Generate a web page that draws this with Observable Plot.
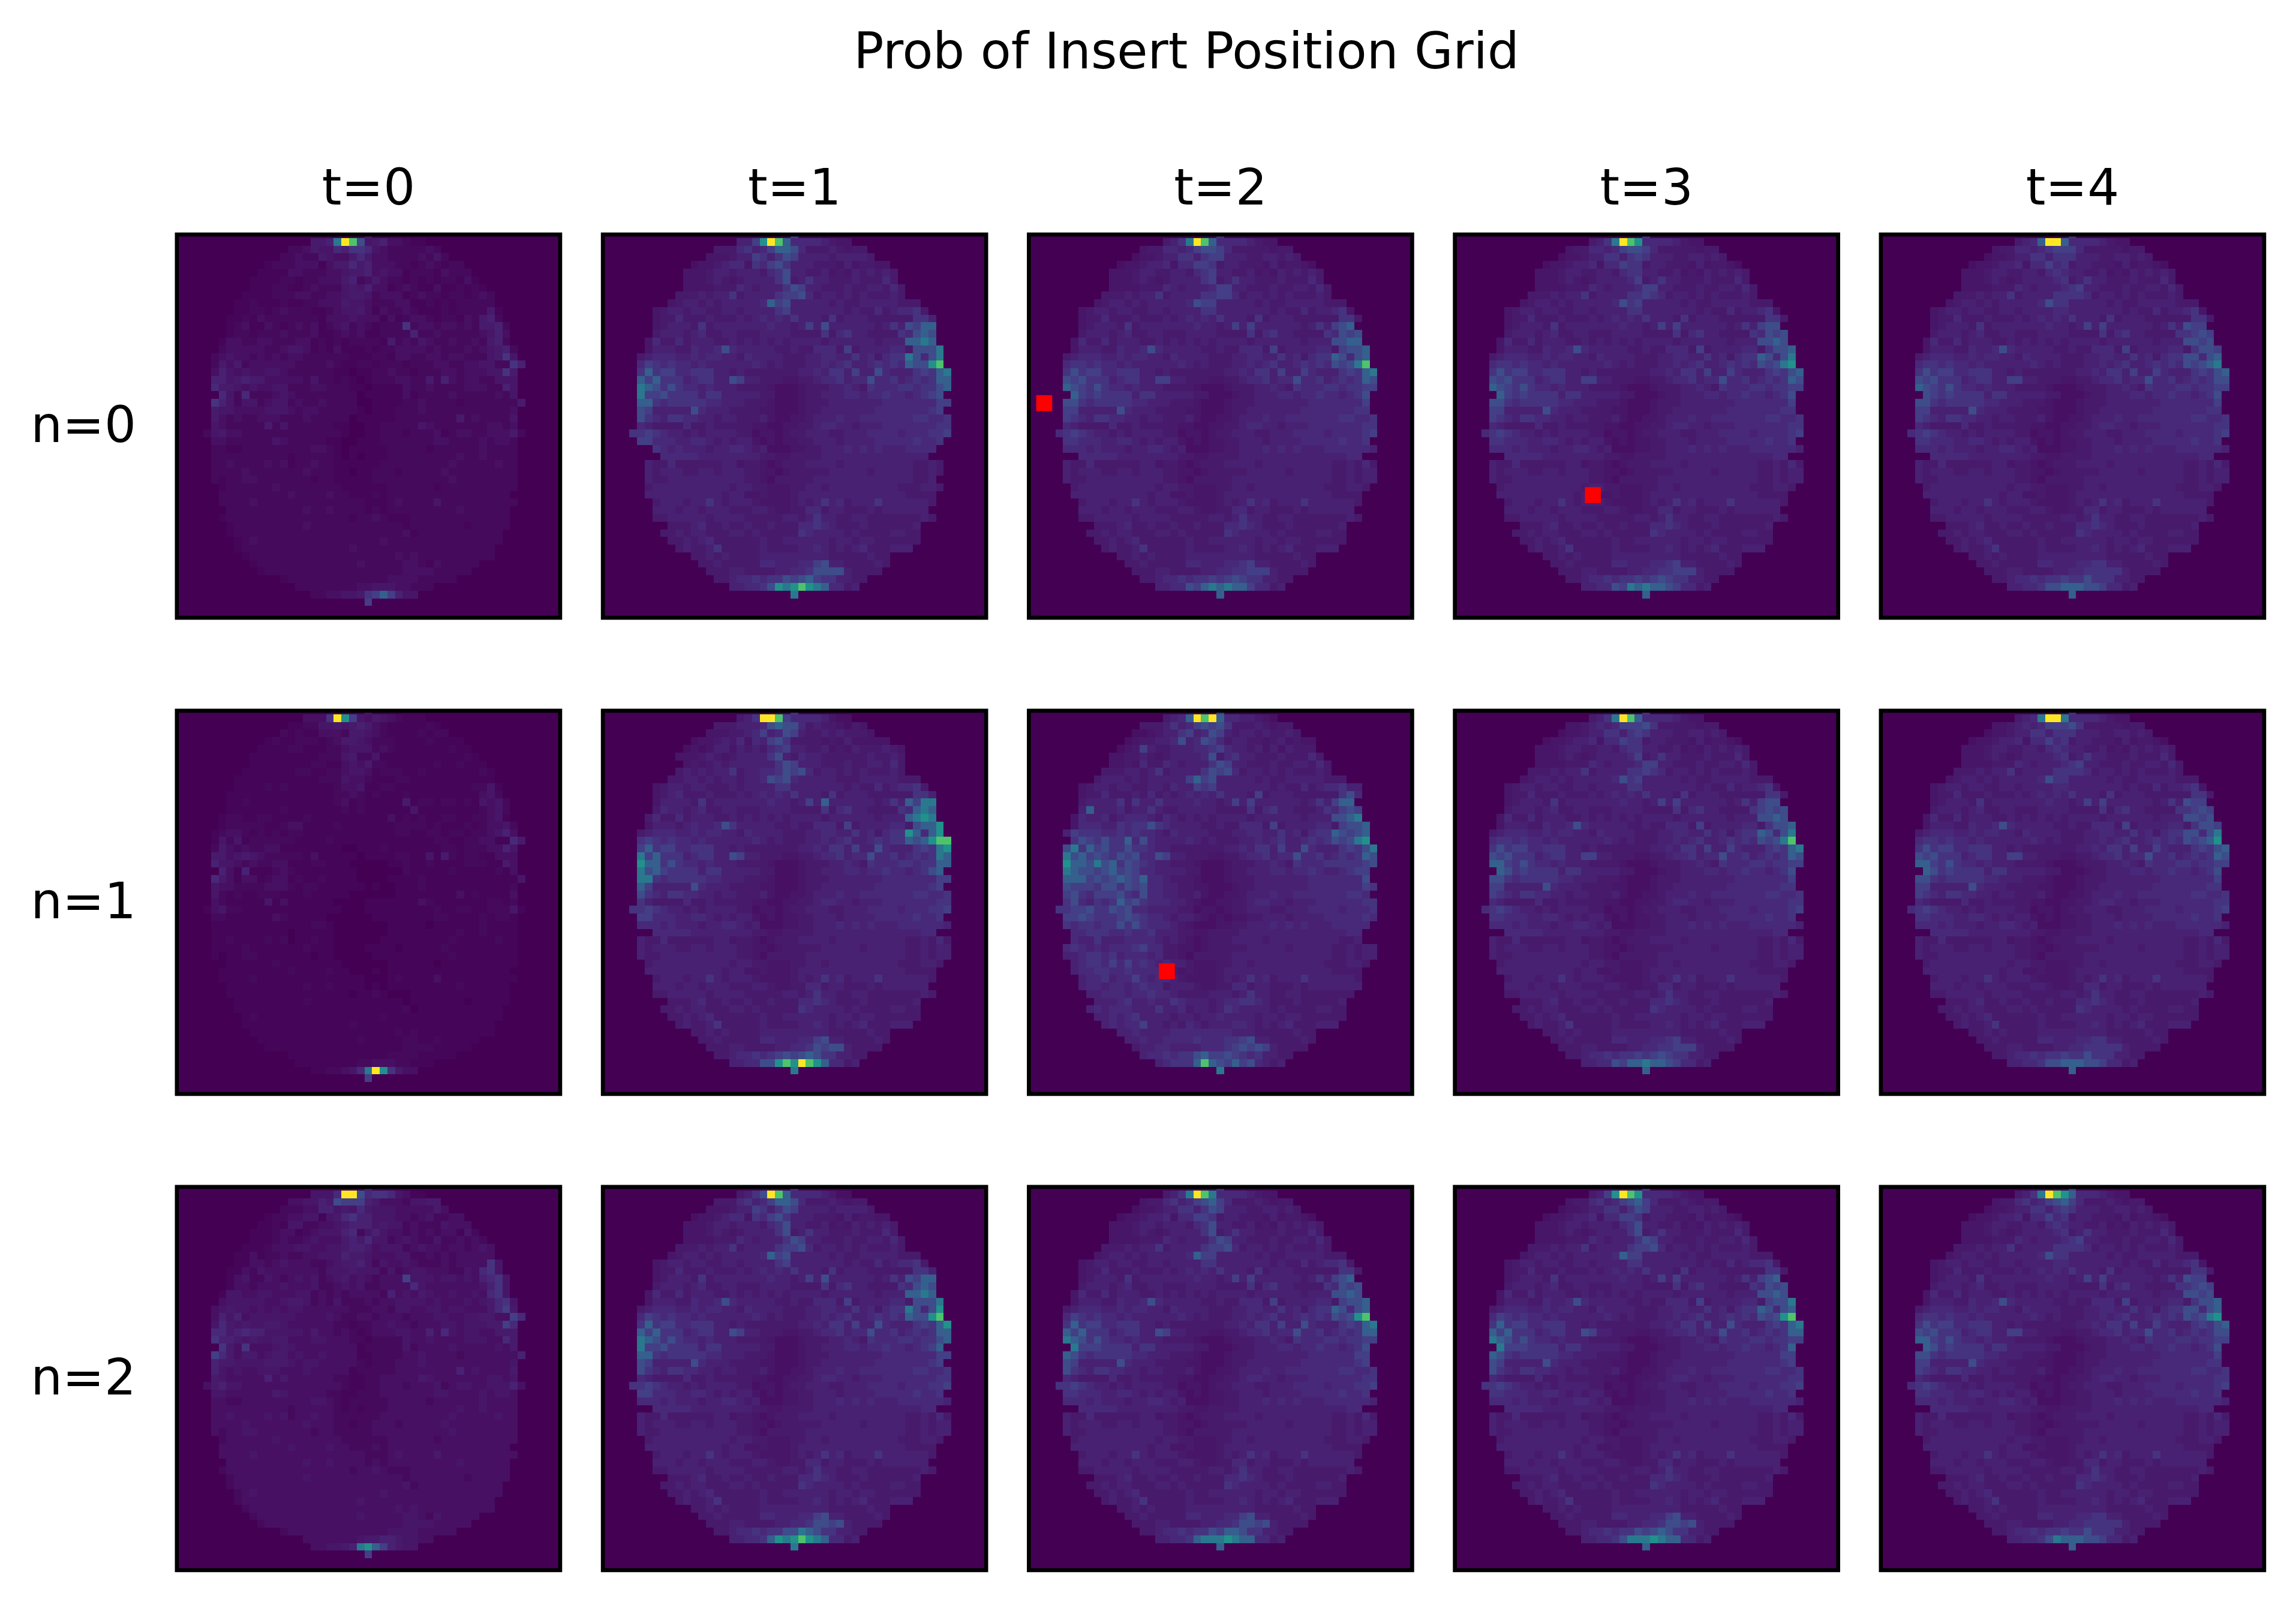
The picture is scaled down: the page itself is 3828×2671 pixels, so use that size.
<!doctype html>
<html><head><meta charset="utf-8">
<script src="https://cdn.jsdelivr.net/npm/d3@7"></script>
<script src="https://cdn.jsdelivr.net/npm/@observablehq/plot@0.6"></script>
<style>body{margin:0;background:#fff}#t{height:150px;width:3828px;position:relative;font:83.33px "DejaVu Sans"}#t span{position:absolute;left:1978px;top:37px;transform:translateX(-50%);white-space:nowrap;line-height:97px}svg{display:block}</style>
</head><body><div id="t"><span>Prob of Insert Position Grid</span></div><script>
// Cell values are estimated by eye from the reference: hot cells and clear specks are
// read individually, the faint background speckle is only approximate.
// One hex digit per cell (index into levels); each row lists the cells inside the disc, centred on column 25.
const levels=[0,.012,.025,.04,.055,.07,.09,.115,.145,.18,.23,.3,.4,.5,.72,1];
const tLabels=[0,1,2,3,4];
const nLabels=[0,1,2];
const markers=[{t:2,n:0,x:2,y:22},{t:3,n:0,x:18,y:34},{t:2,n:1,x:18,y:34}];

const n0t0=`5
556cfea45633211
22354476887432222232
2232254335753322223242
12223331355756333221232122
1111332223345563433122213222
111122122333562353221212122131
1112211232224546331232113112121
111122233223345542333123221221232
1121112112233354432223311212122222
11221232221123445313223211121222251
112132222222133343331312332122132562
1231132123231234232122282332332325562
1221222322231123231122226223222223463
13322332223312121222215232432232232562
233333223443121311121223333232223234562
2343323232332222221112213322332332224584
25352333333222232112212221222332233442286
3643433443222222110112232212223323334485
6645655333332422121012223322526323322444
7554343344222332221101111322322223332264
742722234322222222011111312222322222324
86424423442322322220011112232222122222225
5443333444323322222101112223222222222223
5323223332223222220111112222222252322224
4322222524222222110011222224322222223323
245332222222222222100112221222312332233352
3322222243222221100111222222233222232332
2211222222222332101111122222122222232222
2222222222122222101011122222222232232222
2232222323122322111111222222222322222322
2222322222223222110112221222223222222222
2122332222222122111112222222222322222222
122222232222222211111122222212222222222
22222222232222322111212222222222222222
222232222222222222211123222242222222222
2222222222322322221212222222223222222
12222222222222222122321112222222222222
1222222222322222222222212222222122222
122222222222222222222223122222222222
12322222222222222223222222222222222
1222222222222223222222222222222222
122222222222222222223232222222222
122222222222223222223321322222
1222222222222222222333322222
12222222222222333322222
222222223344433222
223344589b9644
9`;

const n1t0=`4
3338fd9435432111
11224454565321111121
2121133325543211112122
12112221235543222111121111
1111221112234442321111111211
111111111222452241111111111121
1111111122113435221111112112111
111111122112234431222112111111121
1111111111122243321112211111111111
11112121111112334112211111111112241
111111111111112232121112111111111342
1121111111111123121111151221221214342
1111111211111112121111114111111112342
12211221111211111111113121211221122341
122222112331111211111112222121112123342
1233212121221111111111112211221221223463
14241222222111121111111111111221122331175
2532322331111111100111211111112212223364
5534543222221311111011112211415212211333
6443232233111221110000011211211112221153
631611123211111111000000211111211111213
75313312331211211110000111121111111111114
4332222333212211111101001112111111111112
4212112221112111110000001111111131211113
3211111413111111000011111113211111112212
134221111111111111000111111111211221122241
2211111132111110000001111111122111121221
1111111111111221000000011111011111121111
1111111111011111000000011111111121121111
1121111212011211000000111111111211111211
1111211111112111000011110111112111111111
1011221111111011000001111111111211111111
011111121111111100000011111101111111111
11111111121111211000101111111111111111
111121111111111111100012111131111111111
1111111111211211110101111111112111111
01111111111111111011210001111111111111
0111111111211111111111101111111011111
011111111111111111111112011111111111
01211111111111111112111111111111111
0111111111111112111111111111111111
011111111111111111112121111111111
011111111111112111112211211111
0111111111111111111222211111
01111111111111222211111
111111112233322111
1122347cfd8533
9`;

const n2t0=`6
4447ffa78874311
334465a9996533324455
2223366454754443333353
12233441457866444332342233
1121442233456664544232224333
111233123444672464332323233142
1112322343335657442343224223232
111233344334456653444234332332343
1131223223344465543334422323233333
11332343332234556424334322232333384
113243333333244454442423443332243784
1342243234342345343233394443443436784
1332333433342234342233337433333334684
14433443334423232333326343543343343784
344444334554232422232334444343334345784
3454434343443333332223324433443443335795
36463444444333343223323332333443344553397
4754544554333333221223343323334434445597
7756766444443533232123334433637434433555
8665454455333443332212222433433334443375
853833345433333333122222423333433333435
97535534553433433331122223343333233333336
6554444555434433333212223334333333333334
6434334443334333331222223333333363433335
5433333635333333221122333335433333334434
356443333333333333211223332333423443344463
4433333354333332211222333333344333343443
3322333333333443212222233333233333343333
3333333333233333212122233333333343343333
3343333434233433222222333333333433333433
3333433333334333221223332333334333333333
3233443333333233222223333333333433333333
233333343333333322222233333323333333333
33333333343333433222323333333333333333
333343333333333333322234333353333333333
3333333333433433332323333333334333333
23333333333333333233432223333333333333
2333333333433333333333323333333233333
233333333333333333333334233333333333
23433333333333333334333333333333333
2333333333333333433333333333333333
233333333333333333334343333333333
233333333333334333334432433333
2333333333333333333444433333
23333333333333444433333
33333334556654433
334456cdb96544
9`;

const n0t1=`9
669dfeb77776544
55578679bba755565455
4445669868a96666566665
34456774879a86665554645544
4445665666578a66556454656565
4445654566668a56866555655575
44445557656668a96655565566575
5556566856666899a7566565655565
4566565666667b9a66666565566666555
456656655665666689666666656557567785
4557555655565676768666585666555555886
4566658566666667665696a6666665686a9bb
5666567556655566665555857866555587aba
4755756665565656565666656666665666bbcb
4666557667a766666556557775956666775aaac
56777667677665766665556677668675788ca7ac
79878776766666676565556676786678787baade
8b89977888665655555556676886966a7666898bc
b9b888678866a96655544556778677a77867878bb
cba8a8776766655554333455566765877788788ab
c99a88886886666655333455666776778776789a
bb878888877666555433345556666666777777799
a966666a76665555443334556666666777777789
a8768877665665556433445666766777777788778
76555575565555544334455677665666777777788
889876656566665534434556665566677776777889
9977766776565664343445566656666777778778
8767666566776563334455666767676667777
77777666666665544555566666666666666
655755555566455434555666656666666665565
656665566566655443455555666665666665565
65566666666665543555556666666666666556
566666666665665544455665666666666555665
66666666665664454445666666666666665555
5666566865666544445656867566686666665
666566566655566544557756655565666666
5566666566665555566568665566555555565
555675565565565557787655565555556
5565665556656555558766665655556655
556567555555655666666566566555555
5655685555565555667656567555666
55656555566666666655555655
5565555577666779a66555565
55566555566778aaaa65555
556778788a9ab9886655
66778adcdedcb7756
c`;

const n1t1=`8
568ffe977776433
5556667abaa756554354
4445567967a96556565554
34456574769a85555454644444
34346646565789665564546555654
4445654566668a6576655555565565
4545656666668a966655565566575
56565668566778a9a7566565655565
5566565665667a9a76666655566666555
456656655565666688666666656557567785
4567555655565676768666585666555555886
4666658566666667665696b6666665686b9cc
5766567556655566665555857866555587bcb
5755756665565656565666656666665666bcdc
4666567667a866666556557775956666775abbd
56777667677665766665556677668675788db7bd
89878776766666676565556676786678788babdee
9b89977888665655555556676886966a7666898cd
c9b888678866a96655544556778677a77867878cb
dbb8a8776766655554333455566765877788788bb
cab98888688666665533345566677677877678ab
cc878888877666555433345556666666777777799
b966666a76665555443334556666666777777789
a8768877665665556433445666766777777788778
86555575565555544334455677665666777777788
889876656566665534434556665566677776777889
9977766776565664343445566656666777778778
77767666566776563334455666767676667777776
7777766666666554455556666666666666677
65575555556645543455566665666666666556575
65666556656665544345555566666566666556566
65566666666665543555556666666666666556566
566666666665665544455665666666666555665
66666666665664454445666666666666665555
5666566865666544445656867566686666665
666566566655566544557756655565666666
5566666566665555566568665566555555565
555675565565565557787655565555556
5565665556656555558766665655556655
556567555555655666666566566555555
5655685555565555667656567555666
55656555566666666655555655
5565555577666779a66555565
55566555566778a9aa65555
556778789a9aba886655
6677aadedfedb7756
c`;

const n2t1=`8
568afeb77776533
55578679bba755565455
4445669868a96666566665
34456774879a86665554645544
4445665666578a66556454656565
4445654566668a56866555655575
44445557656668a96655565566575
5556566856666899a7566565655565
4566565666667b9a66666565566666555
456656655665666689666666656557567785
4557555655565676768666585666555555886
4566658566666667665696a6666665686a9bb
5666567556655566665555857866555587aba
4755756665565656565666656666665666bbcb
4666557667a766666556557775956666775aaac
56777667677665766665556677668675788ca7ad
79878776766666676565556676786678787baade
8b89977888665655555556676886966a7666898bd
b9b888678866a96655544556778677a77867878bb
cba8a8776766655554333455566765877788788ab
c99a88886886666655333455666776778776789b
bb878888877666555433345556666666777777799
a966666a76665555443334556666666777777789
a8768877665665556433445666766777777788778
76555575565555544334455677665666777777788
889876656566665534434556665566677776777889
9977766776565664343445566656666777778778
77767666566776563334455666767676667777776
7777766666666554455556666666666666677
65575555556645543455566665666666666556575
65666556656665544345555566666566666556566
65566666666665543555556666666666666556566
566666666665665544455665666666666555665
66666666665664454445666666666666665555
5666566865666544445656867566686666665
666566566655566544557756655565666666
5566666566665555566568665566555555565
555675565565565557787655565555556
5565665556656555558766665655556655
556567555555655666666566566555555
5655685555565555667656567555666
55656555566666666655555655
5565555577666779a66555565
55566555566778aa9a65555
556778788aacba886655
66778bdcdedcb7756
c`;

const n0t2=`8
568cfeb77776544
45577679aa9755555455
3445668868996665566565
34456674779985665554645543
4445665566578966556454656565
4445654566668956866555655575
44445557656667996655565566575
555656685666688997566565655565
4566565666667a9966666565566666555
456656655665666688666666656557566784
4557555655565676768666585666555555885
4566658566666667665696966666656869ab
5666567556655566665555857866555587a9a
4755756665565656565666656666665666aabb
4666557667a7666665565577759566667759aab
56777667677665766665556677668675788ba7ab
78878776766666676565556676786678787a9ace
8a8997788866565555555667688696697666898bc
a9a888678866996655544556778677a77867878ba
ba98a877676665555433345556676587778878899
b9898888688666665533345566677677877678a
aa87888887766655543334555666666677777779
9966666a76665555443334556666666777777788
98768877665665556433445666766777777788778
76555575565555544334455677665666777777788
789876656566665534434556665566677776777789
8877766776565664343445566656666777778778
77767666566776563334455666767676667777776
7777766666666554455556666666666666677
65575555556645543455566665666666666556575
65666556656665544345555566666566666556566
65566666666665543555556666666666666556566
566666666665665544455665666666666555665
66666666665664454445666666666666665555
5666566865666544445656867566686666665
666566566655566544557756655565666666
5566666566665555566568665566555555565
555675565565565557787655565555556
5565665556656555558766665655556655
556567555555655666666566566555555
5655685555565555667656567555666
55656555566666666655555655
5565555577666778966555565
55566555566778899965555
556778788989a9886655
6677a9bcbcbb97756
b`;

const n1t2=`9
567bfefb7766543
55568679a9a855565455
3345668967a96566565565
3455667a67a97566554564544
34596556667789766564646555
4455654566667a57866555655575
44547557656668a96655565566575
55566568566668a9a7566565655565
5666565666669b9a66666565566666555
4566566556657669896666666565575677866
45575556575656767686665956665555558a7
5666685866866667665696966666656869bb
6b666756686556666655558578665556879a9
4766756777657656565666656666665666aabc
4777668788a8766665565577759566667759aab
69888778787765766665556677668675788ba9ab
8a98a88b7a766667656555667678667878a9acd
ac8b9a88a8876655555556676886966a7666898ac
cab9a98a9a77a96655544556778677a77867878ba
dbbacab8a9876655543334555667658777888889a
cbaa9ab9a9776666553334556667767787667899
bbb9a9aba9b7765554333455566666667777777a
a9998aa8a9a776655443334556666666777777798
9a87999a87a77665564334456667667777777887
8a76878b9a8777665433445567766566677777788
8899a88a9a77666655344345566655666777767778
99a98889a98776566543434455666566667777787
8788788a8a877765433344556667676766677777
77888778778666554455556666666666666677
76686667777656543455566665666666666556
78767677789775544345555566666566666556566
66788786777675543555556666666666666556566
678879797876766544455665666666666555665
67788778777765454445666666666666665555
6778677976776544445656867566686666665
6776776787756665445577566555656666666
66777677877655556665686655665555555
666786676687666567788765556555556
6767776668667566568766665655556655
667678666656656676666566566555555
6767796656576566677656567555666
66766667777777766655555655
6676677778777889a66555565
56677666677789a9a965555
6778788ab99a98786655
67888beba9b9a7656
c`;

const n2t2=`8
568cfec77776544
45578679ab9755565455
3445668868a96665566565
34456674779985665554645543
4445665666578a66556454656565
4445654566668a56866555655575
44445557656668a96655565566575
5556566856666899a7566565655565
4566565666667b9966666565566666555
456656655665666688666666656557567785
4557555655565676768666585666555555885
4566658566666667665696966666656869ab
5666567556655566665555857866555587a9a
4755756665565656565666656666665666aaba
4666557667a7666665565577759566667759aab
56777667677665766665556677668675788ba7ab
79878776766666676565556676786678787a9ade
8b89977888665655555556676886966a7666898bc
b9b888678866a96655544556778677a77867878bb
cba8a877676665555433345556676587778878899
c9998888688666665533345566677677877678a
ba87888887766655543334555666666677777799
a966666a76665555443334556666666777777789
a8768877665665556433445666766777777788778
76555575565555544334455677665666777777788
889876656566665534434556665566677776777889
8877766776565664343445566656666777778778
77767666566776563334455666767676667777776
7777766666666554455556666666666666677
65575555556645543455566665666666666556575
65666556656665544345555566666566666556566
65566666666665543555556666666666666556566
566666666665665544455665666666666555665
66666666665664454445666666666666665555
5666566865666544445656867566686666665
666566566655566544557756655565666666
5566666566665555566568665566555555565
555675565565565557787655565555556
5565665556656555558766665655556655
556567555555655666666566566555555
5655685555565555667656567555666
55656555566666666655555655
5565555577666779a66555565
55566555566778aa9a65555
556778788a9bba886655
66778bcccdcbb7756
b`;

const n0t3=`8
568cfed77776544
45577679aa9755555455
3445668868986665566565
34456674779885665554645543
4445665566578866556454656565
4445654566667956866555655575
44445557656667996655565566575
555656685666688987566565655565
4566565666667a8966666565566666555
456656655665666688666666656557566784
4557555655565676768666585666555555885
4566658566666667665696966666656869aa
5666567556655566665555857866555587a9a
4755756665565656565666656666665666aaba
4666557667a7666665565577759566667758aab
56777667677665766665556677668675788ba7ac
78878776766666676565556676786678787a9acd
8a8997788866565555555667688696697666898ab
a9a888678866996655544556778677a77867878ba
ba98a877676665555433345556676587778878899
b9898888688666665533345566677677877678a
aa87888887766655543334555666666677777779
9966666a76665555443334556666666777777788
98768877665665556433445666766777777788778
76555575565555544334455677665666777777788
789876656566665534434556665566677776777789
8877766776565664343445566656666777778778
77767666566776563334455666767676667777776
7777766666666554455556666666666666677
65575555556645543455566665666666666556575
65666556656665544345555566666566666556566
65566666666665543555556666666666666556566
566666666665665544455665666666666555665
66666666665664454445666666666666665555
5666566865666544445656867566686666665
666566566655566544557756655565666666
5566666566665555566568665566555555565
555675565565565557787655565555556
5565665556656555558766665655556655
556567555555655666666566566555555
5655685555565555667656567555666
55656555566666666655555655
5565555577666778966555565
55566555566778899965555
556778788989a9886655
6677a9cbcbba97756
b`;

const n1t3=`8
568cfeb77776544
4456767999a855555455
3445668868986665566565
34456674779885665554645543
4445665566578866556454656565
4445654566667956866555655575
44445557656667996655565566575
555656685666688987566565655565
4566565666667a8966666565566666555
456656655665666688666666656557566784
4557555655565676768666585666555555885
4566658566666667665696966666656869aa
5666567556655566665555857866555589a9a
4755756665565656565666656666665666aaba
4666557667a7666665565577759566667758aab
56777667677665766665556677668675788ba7ac
78878776766666676565556676786678787a9ace
8a8997788866565555555667688696697666898bc
a9a888678866996655544556778677a77867878ba
bb98a877676665555433345556676587778878899
ba898888688666665533345566677677877678a
aa87888887766655543334555666666677777779
9966666a76665555443334556666666777777788
98768877665665556433445666766777777788778
76555575565555544334455677665666777777788
789876656566665534434556665566677776777789
8877766776565664343445566656666777778778
77767666566776563334455666767676667777776
7777766666666554455556666666666666677
65575555556645543455566665666666666556575
65666556656665544345555566666566666556566
65566666666665543555556666666666666556566
566666666665665544455665666666666555665
66666666665664454445666666666666665555
5666566865666544445656867566686666665
666566566655566544557756655565666666
5566666566665555566568665566555555565
555675565565565557787655565555556
5565665556656555558766665655556655
556567555555655666666566566555555
5655685555565555667656567555666
55656555566666666655555655
5565555577666778966555565
55566555566778899965555
556778788989a9886655
6677a9bbcbba97756
b`;

const n2t3=`9
569dfed77776544
45578679ab9755565455
3445668868a96665566565
34456674779985665554645543
4445665666578a66556454656565
4445654566668a56866555655575
44445557656668a96655565566575
5556566856666899a7566565655565
4566565666667b9966666565566666555
456656655665666688666666656557567785
4557555655565676768666585666555555885
4566658566666667665696966666656869ab
5666567556655566665555857866555587a9a
4755756665565656565666656666665666aaba
4666557667a7666665565577759566667759aac
56777667677665766665556677668675788ba7ab
79878776766666676565556676786678787a9ade
8b89977888665655555556676886966a7666898bc
b9b888678866a96655544556778677a77867878bb
cba8a877676665555433345556676587778878899
c9998888688666665533345566677677877678b
ba87888887766655543334555666666677777799
a966666a76665555443334556666666777777789
a8768877665665556433445666766777777788778
76555575565555544334455677665666777777788
889876656566665534434556665566677776777889
8877766776565664343445566656666777778778
77767666566776563334455666767676667777776
7777766666666554455556666666666666677
65575555556645543455566665666666666556575
65666556656665544345555566666566666556566
65566666666665543555556666666666666556566
566666666665665544455665666666666555665
66666666665664454445666666666666665555
5666566865666544445656867566686666665
666566566655566544557756655565666666
5566666566665555566568665566555555565
555675565565565557787655565555556
5565665556656555558766665655556655
556567555555655666666566566555555
5655685555565555667656567555666
55656555566666666655555655
5565555577666779a66555565
55566555566778aa9a65555
556778788a9aba886655
66778acccdcbb7756
b`;

const n0t4=`8
567bffb77776544
45577678999755555455
3445668868886665566565
34456674779785665554645543
4445665566578766556454656565
4445654566667856866555655575
44445557656667896655565566575
555656685666688887566565655565
4566565666667a8866666565566666555
456656655665666677666666656557566784
4557555655565676768666585666555555885
456665856666666766569696666665686a99
56665675566555666655558578665555889a9
4755756665565656565666656666665666aa9a
4666557667a7666665565577759566667758aa9
56777667677665766665556677668675788aa7ab
78878776766666676565556676786678787a9abc
8a8997788866565555555667688696697666898ab
a9a888678866996655544556778677a77867878aa
ba98a877676665555433345556676587778878899
a9898888688666665533345566677677877678a
aa87888887766655543334555666666677777779
9966666a76665555443334556666666777777788
98768877665665556433445666766777777788778
76555575565555544334455677665666777777788
789876656566665534434556665566677776777789
8877766776565664343445566656666777778778
77767666566776563334455666767676667777776
7777766666666554455556666666666666677
65575555556645543455566665666666666556575
65666556656665544345555566666566666556566
65566666666665543555556666666666666556566
566666666665665544455665666666666555665
66666666665664454445666666666666665555
5666566865666544445656867566686666665
666566566655566544557756655565666666
5566666566665555566568665566555555565
555675565565565557787655565555556
5565665556656555558766665655556655
556567555555655666666566566555555
5655685555565555667656567555666
55656555566666666655555655
5565555577666778866555565
55566555566778888865555
556778788988a8886655
66778aabbbaa97756
b`;

const n1t4=`8
567cffc77776544
4456767999a855555455
3445668868886665566565
34456674779785665554645543
4445665566578766556454656565
4445654566667856866555655575
44445557656667896655565566575
555656685666688887566565655565
4566565666667a8866666565566666555
456656655665666677666666656557566784
4557555655565676768666585666555555885
456665856666666766569696666665686a99
56665675566555666655558578665555889a9
4755756665565656565666656666665666aa9a
4666557667a7666665565577759566667758aa9
56777667677665766665556677668675788aa7ac
78878776766666676565556676786678787a9abd
8a8997788866565555555667688696697666898ab
a9a888678866996655544556778677a77867878ba
bb98a877676665555433345556676587778878899
ba898888688666665533345566677677877678a
aa87888887766655543334555666666677777779
9966666a76665555443334556666666777777788
98768877665665556433445666766777777788778
76555575565555544334455677665666777777788
789876656566665534434556665566677776777789
8877766776565664343445566656666777778778
77767666566776563334455666767676667777776
7777766666666554455556666666666666677
65575555556645543455566665666666666556575
65666556656665544345555566666566666556566
65566666666665543555556666666666666556566
566666666665665544455665666666666555665
66666666665664454445666666666666665555
5666566865666544445656867566686666665
666566566655566544557756655565666666
5566666566665555566568665566555555565
555675565565565557787655565555556
5565665556656555558766665655556655
556567555555655666666566566555555
5655685555565555667656567555666
55656555566666666655555655
5565555577666778866555565
55566555566778888865555
556778788988a8886655
66778aabbbaa97756
b`;

const n2t4=`9
568cfedb7776544
45578679ab9755565455
3445668868986665566565
34456674779785665554645543
4445665566578766556454656565
4445654566667856866555655575
44445557656667896655565566575
555656685666688887566565655565
4566565666667a8866666565566666555
456656655665666677666666656557566784
4557555655565676768666585666555555885
456665856666666766569696666665686a99
56665675566555666655558578665555889a9
4755756665565656565666656666665666aa9a
4666557667a7666665565577759566667758aab
56777667677665766665556677668675788aa7ab
78878776766666676565556676786678787a9acd
8a8997788866565555555667688696697666898ab
a9a888678866996655544556778677a77867878aa
bb98a877676665555433345556676587778878899
ba898888688666665533345566677677877678a
aa87888887766655543334555666666677777779
9966666a76665555443334556666666777777788
98768877665665556433445666766777777788778
76555575565555544334455677665666777777788
789876656566665534434556665566677776777789
8877766776565664343445566656666777778778
77767666566776563334455666767676667777776
7777766666666554455556666666666666677
65575555556645543455566665666666666556575
65666556656665544345555566666566666556566
65566666666665543555556666666666666556566
566666666665665544455665666666666555665
66666666665664454445666666666666665555
5666566865666544445656867566686666665
666566566655566544557756655565666666
5566666566665555566568665566555555565
555675565565565557787655565555556
5565665556656555558766665655556655
556567555555655666666566566555555
5655685555565555667656567555666
55656555566666666655555655
5565555577666778866555565
55566555566778888865555
556778788988a8886655
66778acbbbaa97756
b`;

const panels=[
 [0,0,n0t0],[1,0,n0t1],[2,0,n0t2],[3,0,n0t3],[4,0,n0t4],
 [0,1,n1t0],[1,1,n1t1],[2,1,n1t2],[3,1,n1t3],[4,1,n1t4],
 [0,2,n2t0],[1,2,n2t1],[2,2,n2t2],[3,2,n2t3],[4,2,n2t4]];
const cells=[];
for(const [t,n,grid] of panels){
 grid.split("\n").forEach((row,r)=>{
  const start=25-(row.length>>1);
  [...row].forEach((h,i)=>cells.push({t,n,c:start+i,r,v:levels[parseInt(h,16)]}));
 });
}
const chart=Plot.plot({width:3828,height:2521,marginLeft:294.4,marginRight:53.6,marginTop:240.5,marginBottom:53.6,
 style:{fontFamily:"DejaVu Sans",background:"#fff",color:"#000"},
 fx:{domain:tLabels,paddingInner:71.25/710.25,paddingOuter:0,round:false},
 fy:{domain:nLabels,paddingInner:155/794,paddingOuter:0,round:false},
 x:{domain:[0,50],axis:null},y:{domain:[0,50],reverse:true,axis:null},
 color:{type:"linear",scheme:"viridis",domain:[0,1]},
 marks:[
  Plot.frame({fill:d3.interpolateViridis(0)}),
  Plot.rect(cells,{x1:d=>d.c-.5,x2:d=>d.c+.5,y1:d=>d.r-.5,y2:d=>d.r+.5,fill:"v",fx:"t",fy:"n",clip:true,shapeRendering:"crispEdges"}),
  Plot.dot(markers,{x:"x",y:"y",fx:"t",fy:"n",symbol:"square",r:15,fill:"#f00"}),
  Plot.frame({stroke:"#000",strokeWidth:6.7}),
  Plot.axisFx({anchor:"top",label:null,tickSize:0,tickPadding:50,fontSize:83.33,tickFormat:d=>`t=${d}`}),
  Plot.axisFy({anchor:"left",label:null,tickSize:0,tickPadding:68,fontSize:83.33,tickFormat:d=>`n=${d}`})
 ]});
document.body.appendChild(chart);
</script></body></html>
